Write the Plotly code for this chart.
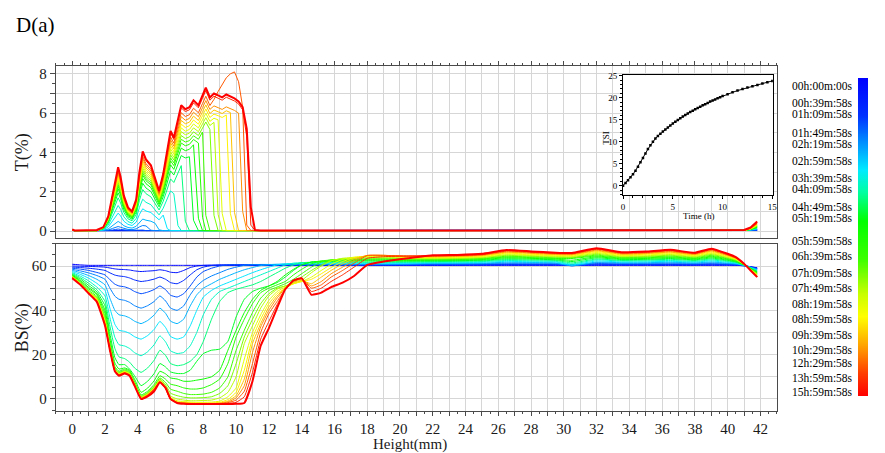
import plotly.graph_objects as go
from plotly.colors import sample_colorscale

# ------------------------------------------------------------------ data
PANEL_TITLE = "D(a)"

HEIGHT_T = [0, 0.15, 1.5, 1.9, 2.2, 2.45, 2.65, 2.8, 2.95, 3.15,
            3.4, 3.65, 3.9, 4.1, 4.3, 4.5, 4.8, 5.05, 5.3, 5.55,
            5.8, 6.0, 6.2, 6.45, 6.65, 6.9, 7.15, 7.4, 7.7, 7.95,
            8.15, 8.4, 8.65, 8.9, 9.15, 9.4, 9.65, 9.9, 10.15, 10.4,
            10.65, 10.9, 11.15, 11.5, 25, 40, 41.0, 41.4, 41.8]

T_CURVES = [
    [0.03,0.02,0.02,0.02,0.02,0.02,0.02,0.02,0.02,0.02,
     0.02,0.02,0.02,0.02,0.02,0.02,0.02,0.02,0.02,0.02,
     0.02,0.02,0.02,0.02,0.02,0.02,0.02,0.02,0.02,0.02,
     0.02,0.02,0.02,0.02,0.02,0.02,0.02,0.02,0.02,0.02,
     0.02,0.02,0.02,0.02,0.02,0.02,0.02,0.03,0.04],
    [0.03,0.02,0.02,0.02,0.02,0.02,0.02,0.02,0.02,0.02,
     0.02,0.02,0.02,0.02,0.02,0.02,0.02,0.02,0.02,0.02,
     0.02,0.02,0.02,0.02,0.02,0.02,0.02,0.02,0.02,0.02,
     0.02,0.02,0.02,0.02,0.02,0.02,0.02,0.02,0.02,0.02,
     0.02,0.02,0.02,0.02,0.02,0.02,0.02,0.03,0.04],
    [0.03,0.02,0.02,0.02,0.02,0.02,0.03,0.03,0.03,0.02,
     0.02,0.02,0.02,0.02,0.02,0.02,0.02,0.02,0.02,0.02,
     0.02,0.02,0.02,0.02,0.02,0.02,0.02,0.02,0.02,0.02,
     0.02,0.02,0.02,0.02,0.02,0.02,0.02,0.02,0.02,0.02,
     0.02,0.02,0.02,0.02,0.02,0.02,0.02,0.03,0.05],
    [0.03,0.02,0.02,0.02,0.03,0.05,0.08,0.1,0.08,0.05,
     0.04,0.03,0.05,0.06,0.05,0.02,0.02,0.02,0.02,0.02,
     0.02,0.02,0.02,0.02,0.02,0.02,0.02,0.02,0.02,0.02,
     0.02,0.02,0.02,0.02,0.02,0.02,0.02,0.02,0.02,0.02,
     0.02,0.02,0.02,0.02,0.02,0.02,0.02,0.03,0.05],
    [0.03,0.02,0.02,0.02,0.05,0.13,0.2,0.23,0.19,0.13,
     0.08,0.07,0.11,0.21,0.28,0.26,0.04,0.02,0.02,0.02,
     0.02,0.02,0.02,0.02,0.02,0.02,0.02,0.02,0.02,0.02,
     0.02,0.02,0.02,0.02,0.02,0.02,0.02,0.02,0.02,0.02,
     0.02,0.02,0.02,0.02,0.02,0.02,0.02,0.04,0.07],
    [0.03,0.02,0.02,0.03,0.11,0.27,0.42,0.49,0.41,0.27,
     0.18,0.15,0.24,0.45,0.61,0.55,0.5,0.4,0.06,0.02,
     0.02,0.02,0.02,0.02,0.02,0.02,0.02,0.02,0.02,0.02,
     0.02,0.02,0.02,0.02,0.02,0.02,0.02,0.02,0.02,0.02,
     0.02,0.02,0.02,0.02,0.02,0.02,0.03,0.05,0.1],
    [0.03,0.02,0.02,0.06,0.21,0.5,0.78,0.91,0.77,0.5,
     0.34,0.28,0.45,0.84,1.13,1.02,0.94,0.74,0.57,0.81,
     0.12,0.02,0.02,0.02,0.02,0.02,0.02,0.02,0.02,0.02,
     0.02,0.02,0.02,0.02,0.02,0.02,0.02,0.02,0.02,0.02,
     0.02,0.02,0.02,0.02,0.02,0.02,0.03,0.06,0.12],
    [0.03,0.02,0.02,0.08,0.3,0.72,1.12,1.3,1.1,0.72,
     0.48,0.4,0.64,1.2,1.62,1.46,1.34,1.06,0.82,1.16,
     1.68,2.04,1.9,0.28,0.02,0.02,0.02,0.02,0.02,0.02,
     0.02,0.02,0.02,0.02,0.02,0.02,0.02,0.02,0.02,0.02,
     0.02,0.02,0.02,0.02,0.02,0.02,0.03,0.07,0.15],
    [0.03,0.02,0.02,0.1,0.39,0.94,1.46,1.69,1.43,0.94,
     0.62,0.52,0.83,1.56,2.11,1.9,1.74,1.38,1.07,1.51,
     2.18,2.65,2.47,2.96,3.33,0.5,0.02,0.02,0.02,0.02,
     0.02,0.02,0.02,0.02,0.02,0.02,0.02,0.02,0.02,0.02,
     0.02,0.02,0.02,0.02,0.02,0.02,0.03,0.07,0.16],
    [0.03,0.02,0.02,0.12,0.45,1.08,1.68,1.95,1.65,1.08,
     0.72,0.6,0.96,1.8,2.43,2.19,2.01,1.59,1.23,1.74,
     2.52,3.06,2.85,3.42,3.84,3.72,3.78,0.55,0.02,0.02,
     0.02,0.02,0.02,0.02,0.02,0.02,0.02,0.02,0.02,0.02,
     0.02,0.02,0.02,0.02,0.02,0.02,0.03,0.08,0.18],
    [0.03,0.02,0.02,0.13,0.5,1.19,1.85,2.15,1.82,1.19,
     0.79,0.66,1.06,1.98,2.67,2.41,2.21,1.75,1.35,1.91,
     2.77,3.37,3.14,3.76,4.22,4.09,4.16,4.39,0.65,0.02,
     0.02,0.02,0.02,0.02,0.02,0.02,0.02,0.02,0.02,0.02,
     0.02,0.02,0.02,0.02,0.02,0.02,0.03,0.08,0.2],
    [0.03,0.02,0.02,0.14,0.53,1.26,1.96,2.28,1.93,1.26,
     0.84,0.7,1.12,2.1,2.84,2.56,2.35,1.86,1.44,2.03,
     2.94,3.57,3.33,3.99,4.48,4.34,4.41,4.66,4.48,0.7,
     0.02,0.02,0.02,0.02,0.02,0.02,0.02,0.02,0.02,0.02,
     0.02,0.02,0.02,0.02,0.02,0.02,0.03,0.09,0.22],
    [0.03,0.02,0.02,0.15,0.55,1.31,2.04,2.37,2.01,1.31,
     0.88,0.73,1.17,2.19,2.96,2.66,2.45,1.93,1.5,2.12,
     3.07,3.72,3.47,4.16,4.67,4.53,4.6,4.85,4.67,5.04,
     0.8,0.02,0.02,0.02,0.02,0.02,0.02,0.02,0.02,0.02,
     0.02,0.02,0.02,0.02,0.02,0.02,0.03,0.1,0.24],
    [0.03,0.02,0.02,0.15,0.57,1.37,2.13,2.47,2.09,1.37,
     0.91,0.76,1.22,2.28,3.08,2.77,2.55,2.01,1.56,2.2,
     3.19,3.88,3.61,4.33,4.86,4.71,4.79,5.05,4.86,5.24,
     5.55,5.17,0.8,0.02,0.02,0.02,0.02,0.02,0.02,0.02,
     0.02,0.02,0.02,0.02,0.02,0.02,0.03,0.1,0.26],
    [0.03,0.02,0.02,0.16,0.59,1.42,2.21,2.57,2.17,1.42,
     0.95,0.79,1.26,2.37,3.2,2.88,2.65,2.09,1.62,2.29,
     3.32,4.03,3.75,4.5,5.06,4.9,4.98,5.25,5.06,5.45,
     5.77,5.37,5.53,0.85,0.02,0.02,0.02,0.02,0.02,0.02,
     0.02,0.02,0.02,0.02,0.02,0.02,0.03,0.11,0.28],
    [0.03,0.02,0.02,0.16,0.62,1.48,2.3,2.67,2.26,1.48,
     0.98,0.82,1.31,2.46,3.32,2.99,2.75,2.17,1.68,2.38,
     3.44,4.18,3.9,4.67,5.25,5.08,5.17,5.45,5.25,5.66,
     5.99,5.58,5.74,5.66,0.9,0.02,0.02,0.02,0.02,0.02,
     0.02,0.02,0.02,0.02,0.02,0.02,0.03,0.11,0.3],
    [0.03,0.02,0.02,0.17,0.64,1.53,2.38,2.76,2.34,1.53,
     1.02,0.85,1.36,2.55,3.44,3.1,2.85,2.25,1.74,2.47,
     3.57,4.34,4.04,4.85,5.44,5.27,5.36,5.65,5.44,5.87,
     6.21,5.78,5.95,5.87,5.78,5.91,0.9,0.02,0.02,0.02,
     0.02,0.02,0.02,0.02,0.02,0.02,0.03,0.12,0.32],
    [0.03,0.02,0.02,0.18,0.66,1.58,2.46,2.86,2.42,1.58,
     1.06,0.88,1.41,2.64,3.56,3.21,2.95,2.33,1.8,2.55,
     3.7,4.49,4.18,5.02,5.63,5.46,5.54,5.85,5.63,6.07,
     6.42,5.98,6.16,6.07,5.98,6.12,6.03,0.95,0.02,0.02,
     0.02,0.02,0.02,0.02,0.02,0.02,0.03,0.13,0.35],
    [0.03,0.02,0.02,0.18,0.68,1.64,2.55,2.96,2.5,1.64,
     1.09,0.91,1.46,2.73,3.69,3.32,3.05,2.41,1.87,2.64,
     3.82,4.64,4.32,5.19,5.82,5.64,5.73,6.05,5.82,6.28,
     6.64,6.19,6.37,6.28,6.19,6.32,6.23,6.14,6.0,1.0,
     0.02,0.02,0.02,0.02,0.02,0.02,0.03,0.13,0.37],
    [0.03,0.02,0.02,0.19,0.71,1.69,2.63,3.06,2.59,1.69,
     1.13,0.94,1.5,2.82,3.81,3.43,3.15,2.49,1.93,2.73,
     3.95,4.79,4.47,5.36,6.02,5.83,5.92,6.25,6.02,6.49,
     6.86,6.39,6.7,7.1,7.45,7.8,8.0,8.1,7.6,6.3,
     0.3,0.03,0.02,0.02,0.02,0.02,0.03,0.14,0.4],
    [0.04,0.02,0.03,0.2,0.74,1.76,2.74,3.19,2.7,1.76,
     1.18,0.98,1.57,2.94,3.97,3.58,3.28,2.6,2.01,2.84,
     4.12,5.0,4.66,5.59,6.27,6.08,6.17,6.52,6.27,6.76,
     7.15,6.66,6.86,6.76,6.66,6.81,6.71,6.62,6.47,6.17,
     4.8,0.3,0.03,0.02,0.02,0.02,0.03,0.15,0.42],
    [0.08,0.03,0.05,0.2,0.75,1.8,2.8,3.25,2.75,1.8,
     1.2,1.0,1.6,3.0,4.05,3.65,3.35,2.65,2.05,2.9,
     4.2,5.1,4.75,5.7,6.4,6.2,6.3,6.65,6.4,6.9,
     7.3,6.8,7.0,6.9,6.8,6.95,6.85,6.75,6.6,6.3,
     5.2,1.2,0.05,0.03,0.02,0.03,0.05,0.18,0.48],
]

HEIGHT_BS = [0, 0.5, 1, 1.5, 2, 2.3, 2.6, 2.85, 3.2, 3.5, 3.8, 4.2, 4.6, 5.0, 5.35, 5.7, 6.0, 6.4,
             6.8, 7.2, 7.6, 8.0, 8.5, 9.0, 9.5, 10.0, 10.5, 11.0, 11.5, 12.0, 12.5, 13.0, 13.5, 14.0,
             14.6, 15.2, 15.8, 16.5, 17.2, 18.0,
             19.0, 20.5,
             22.0, 23.5, 25.0, 26.5, 28.0, 29.5, 30.5, 32.0, 33.5, 35.0, 36.5, 38.0, 39.0, 40.0,
             40.5, 41.0, 41.4, 41.8]

BS_CURVES = [
    [60.8, 60.5, 60.3, 60.3, 60.3, 60.3, 60.3, 60.3, 60.3, 60.3, 60.3, 60.3, 60.3, 60.3, 60.3, 60.3, 60.3, 60.3,
     60.3, 60.3, 60.3, 60.3, 60.3, 60.3, 60.3, 60.3, 60.3, 60.3, 60.3, 60.3, 60.3, 60.3, 60.3, 60.3, 60.3, 60.3, 60.3, 60.3, 60.3, 60.3,
     60.3, 60.3,
     60.3, 60.3, 60.3, 60.3, 60.3, 60.3, 60.3, 60.3, 60.3, 60.3, 60.3, 60.3, 60.3, 60.3,
     60.3, 60.1, 59.7, 59.2],
    [60, 59.9, 59.8, 59.7, 59.5, 59.1, 58.7, 58.5, 58.4, 58.2, 57.8, 57.5, 57.7, 57.9, 58.3, 57.9, 57.2, 57.0,
     58, 59.3, 60, 60.3, 60.4, 60.4, 60.4, 60.4, 60.4, 60.4, 60.4, 60.4, 60.4, 60.4, 60.4, 60.4, 60.4, 60.4, 60.4, 60.4, 60.4, 60.4,
     60.4, 60.45,
     60.4, 60.4, 60.5, 60.5, 60.5, 60.5, 60.5, 60.5, 60.5, 60.5, 60.5, 60.5, 60.5, 60.5,
     60.4, 60.1, 59.6, 59.1],
    [59.5, 59.3, 59.0, 58.6, 58.0, 56.9, 55.9, 55.5, 55.2, 54.6, 53.7, 53.0, 53.4, 54.1, 55.0, 54.0, 52.5, 52.0,
     53.5, 56, 58.3, 59.5, 60.2, 60.5, 60.5, 60.5, 60.5, 60.5, 60.5, 60.5, 60.5, 60.5, 60.5, 60.5, 60.5, 60.5, 60.5, 60.5, 60.5, 60.5,
     60.5, 60.5,
     60.6, 60.6, 60.6, 60.7, 60.7, 60.6, 60.6, 60.8, 60.7, 60.7, 60.7, 60.6, 60.8, 60.6,
     60.5, 60.2, 59.6, 58.9],
    [59, 58.6, 58, 57.1, 56, 53.8, 51.8, 51, 50.6, 49.8, 48.5, 47.5, 48.2, 49.4, 51, 49.3, 46.8, 46,
     47.5, 51, 55, 57.5, 59, 60, 60.5, 60.6, 60.6, 60.6, 60.6, 60.6, 60.6, 60.6, 60.6, 60.6, 60.6, 60.6, 60.6, 60.6, 60.6, 60.6,
     60.6, 60.65,
     60.75, 60.8, 60.8, 61.0, 60.9, 60.9, 60.1, 61.1, 60.9, 60.9, 61.0, 60.9, 61.05, 60.8,
     60.7, 60.2, 59.5, 58.8],
    [58.5, 57.8, 56.9, 55.7, 54, 50, 46.4, 45, 44.5, 43.6, 42.1, 41, 42.1, 44, 46.5, 44.2, 41, 40,
     42, 47, 51, 53.5, 55.5, 57, 58.5, 59.5, 60.3, 60.6, 60.7, 60.7, 60.7, 60.7, 60.7, 60.7, 60.7, 60.7, 60.7, 60.7, 60.7, 60.7,
     60.7, 60.8,
     61.0, 61.0, 61.1, 61.3, 61.25, 61.2, 60.1, 61.5, 61.2, 61.2, 61.35, 61.2, 61.4, 61.1,
     60.9, 60.2, 59.4, 58.6],
    [58, 57, 55.7, 54, 51.5, 45.4, 40, 38, 37.5, 36.6, 35.1, 34, 35.4, 37.9, 41, 38.6, 35.1, 34,
     36, 42, 47, 50, 52, 54, 55.5, 57, 58.3, 59.3, 60.2, 60.6, 60.8, 60.9, 60.9, 60.9, 60.9, 60.9, 60.9, 60.9, 60.9, 60.9,
     60.9, 61.0,
     61.2, 61.2, 61.3, 61.7, 61.6, 61.4, 60.2, 61.8, 61.5, 61.5, 61.7, 61.4, 61.8, 61.3,
     61.0, 60.3, 59.4, 58.4],
    [57.5, 56.2, 54.5, 52.2, 49, 40.9, 33.7, 31, 30.5, 29.6, 28.1, 27, 28.6, 31.4, 35, 32.2, 28.2, 27,
     28, 33, 40, 46, 49, 51, 52.5, 54, 55.5, 57, 58.3, 59.5, 60.5, 61, 61.1, 61.2, 61.2, 61.2, 61.2, 61.2, 61.2, 61.2,
     61.2, 61.3,
     61.5, 61.5, 61.65, 62.1, 61.9, 61.8, 60.5, 62.3, 61.8, 61.9, 62.1, 61.8, 62.25, 61.65,
     61.3, 60.3, 59.3, 58.1],
    [57, 55.4, 53.3, 50.5, 46.5, 36.6, 27.8, 24.5, 23.9, 22.8, 20.9, 19.5, 21.3, 24.5, 28.5, 25.7, 21.7, 20.5,
     21, 24, 30, 38, 45, 48.5, 50, 51.5, 53, 54.5, 56, 57.5, 59, 60.5, 61.3, 61.5, 61.5, 61.5, 61.5, 61.5, 61.5, 61.5,
     61.5, 61.6,
     61.7, 61.8, 62.0, 62.5, 62.3, 62.1, 60.9, 62.8, 62.2, 62.3, 62.5, 62.1, 62.7, 62.0,
     61.5, 60.4, 59.2, 57.9],
    [56.6, 54.7, 52.2, 49.3, 44, 32.8, 22.8, 19, 18.2, 16.6, 14, 12, 14, 17.5, 22, 19.6, 16, 15,
     15.5, 17, 20, 26, 36, 44, 48, 49.5, 50.5, 51.5, 53, 55, 57, 59, 60.5, 61.5, 61.7, 61.8, 61.8, 61.8, 61.8, 61.8,
     61.8, 61.9,
     62.0, 62.1, 62.3, 62.9, 62.7, 62.5, 61.4, 63.2, 62.5, 62.7, 63.0, 62.5, 63.15, 62.3,
     61.7, 60.4, 59.1, 57.6],
    [56.2, 54.1, 51.2, 48.4, 42, 29.5, 18.7, 15.5, 15.5, 13.5, 10.5, 6, 8, 11.5, 16, 14.4, 12.2, 11.5,
     11.5, 13, 17, 20.5, 22, 22.5, 26, 37, 45, 48.5, 50, 51, 52.5, 55, 58, 60.5, 61.8, 62, 62.1, 62.2, 62.2, 62.3,
     62.2, 62.2,
     62.3, 62.4, 62.6, 63.3, 63.1, 62.8, 62.0, 63.7, 62.9, 63.0, 63.4, 62.8, 63.6, 62.6,
     61.9, 60.5, 58.9, 57.4],
    [55.9, 53.5, 50.3, 47.6, 40, 27.3, 16.2, 13.5, 14, 13, 9, 3, 4.9, 8.2, 12.5, 11.3, 9.5, 9,
     8, 8, 8.5, 9, 10, 13, 22, 31, 39, 45, 49, 51, 53, 56, 58.5, 60.5, 61.8, 62.2, 62.3, 62.4, 62.5, 62.6,
     62.6, 62.5,
     62.55, 62.65, 62.9, 63.75, 63.45, 63.15, 62.6, 64.15, 63.25, 63.4, 63.8, 63.15, 64.05, 62.9,
     62.2, 60.6, 58.9, 57.1],
    [55.7, 53.1, 49.7, 47.1, 38.5, 25.5, 14.6, 12.5, 13.5, 12.5, 7.9, 1.8, 3.5, 6.6, 10.5, 8.9, 6.7, 6,
     5, 4.5, 4.5, 5, 6.5, 9, 16, 28, 36, 43, 48, 50, 51.5, 53, 56, 58.5, 61, 62.3, 62.7, 62.8, 62.9, 63,
     63, 62.8,
     62.8, 62.9, 63.2, 64.1, 63.8, 63.4, 63.4, 64.5, 63.55, 63.7, 64.15, 63.4, 64.4, 63.2,
     62.3, 60.6, 58.8, 56.9],
    [55.5, 52.7, 49, 46.3, 37, 24.5, 14, 12, 13, 12, 7.4, 1.3, 2.9, 5.8, 9.5, 7.4, 4.4, 3.5,
     2.5, 2, 2, 2.2, 3, 5, 10, 22, 31, 39, 45.5, 49, 50.5, 52, 54, 56.5, 59.5, 61.8, 62.8, 63, 63.1, 63.2,
     63.3, 63.0,
     63.0, 63.1, 63.4, 64.4, 64.1, 63.7, 63.7, 64.9, 63.8, 64.0, 64.5, 63.7, 64.8, 63.4,
     62.5, 60.6, 58.7, 56.7],
    [55.3, 52.4, 48.5, 45.7, 36, 23.9, 13.6, 11.7, 12.7, 11.7, 7.1, 1, 2.6, 5.4, 9, 6.4, 2.6, 1.5,
     0.8, 0.5, 0.5, 0.6, 1, 2.5, 6, 16, 28, 36, 43, 47.5, 50, 51, 52.5, 55, 58, 60.5, 62.5, 63.3, 63.5, 63.6,
     63.6, 63.3,
     63.2, 63.4, 63.7, 64.8, 64.4, 64.0, 63.9, 65.3, 64.1, 64.3, 64.85, 64.0, 65.2, 63.7,
     62.7, 60.7, 58.6, 56.5],
    [55.2, 52.2, 48.3, 45.4, 35.5, 23.5, 13.4, 11.5, 12.5, 11.5, 6.9, 0.8, 2.4, 5.1, 8.7, 5.7, 1.3, 0,
     -0.5, -0.8, -0.8, -0.7, -0.5, 0.5, 3, 10, 25, 33, 41, 46.5, 49.5, 51, 52, 53.5, 57, 60, 62.3, 63.5, 63.8, 64,
     64, 63.5,
     63.45, 63.6, 63.9, 65.1, 64.7, 64.3, 64.2, 65.7, 64.4, 64.6, 65.2, 64.3, 65.55, 63.9,
     62.9, 60.7, 58.5, 56.3],
    [55.1, 52.1, 48.2, 45.1, 35, 23.2, 13.1, 11.3, 12.3, 11.3, 6.7, 0.6, 2.2, 4.9, 8.4, 5.2, 0.6, -0.8,
     -1.2, -1.4, -1.5, -1.5, -1.4, -1, 1, 5, 18, 30, 38, 44.5, 48.5, 50.5, 52, 53, 55, 58, 60.8, 63, 64, 64.3,
     64.4, 63.8,
     63.7, 63.8, 64.2, 65.5, 65.0, 64.6, 64.5, 66.1, 64.7, 64.95, 65.55, 64.6, 65.9, 64.2,
     63.1, 60.8, 58.4, 56.1],
    [55, 51.9, 48.1, 44.8, 34.5, 22.8, 12.9, 11.1, 12.1, 11.1, 6.5, 0.5, 2, 4.7, 8.2, 4.9, 0.2, -1.2,
     -1.5, -1.7, -1.8, -1.8, -1.8, -1.5, -0.3, 3, 13, 27.5, 36, 43, 47.5, 50, 52, 53, 54, 56.5, 59.3, 62, 63.8, 64.5,
     64.7, 64,
     63.9, 64.1, 64.5, 65.8, 65.3, 64.9, 64.8, 66.5, 65.0, 65.3, 65.9, 64.9, 66.3, 64.5,
     63.3, 60.8, 58.3, 55.8],
    [54.9, 51.8, 48.0, 44.5, 34, 22.5, 12.8, 11, 12, 11, 6.4, 0.4, 1.9, 4.6, 8, 4.7, 0, -1.5,
     -1.7, -1.9, -2, -2, -2, -1.8, -1, 1.5, 9, 25, 34, 41.5, 46.5, 50, 52.5, 53.5, 52, 55, 58, 61, 63.3, 64.7,
     64.8, 64.2,
     64.1, 64.3, 64.7, 66.2, 65.7, 65.15, 65.1, 66.85, 65.3, 65.6, 66.25, 65.15, 66.7, 64.7,
     63.4, 60.9, 58.3, 55.6],
    [54.8, 51.7, 47.9, 44.3, 33.8, 22.4, 12.7, 10.9, 11.9, 10.9, 6.3, 0.3, 1.8, 4.5, 7.9, 4.6, -0.1, -1.6,
     -1.8, -2, -2.1, -2.1, -2.1, -2, -1.4, 0.5, 6, 21, 32.5, 40, 45.5, 50, 53, 54, 51, 53, 56.5, 59.5, 62.5, 64.8,
     64.8, 64.4,
     64.3, 64.5, 64.9, 66.4, 65.9, 65.4, 65.3, 67.15, 65.55, 65.8, 66.5, 65.4, 67.0, 64.9,
     63.6, 60.9, 58.2, 55.5],
    [54.7, 51.6, 47.8, 44.1, 33.5, 22.2, 12.6, 10.8, 11.8, 10.8, 6.2, 0.2, 1.7, 4.4, 7.8, 4.5, -0.2, -1.7,
     -1.9, -2.1, -2.2, -2.2, -2.2, -2.1, -1.7, -0.5, 3.5, 16, 30, 38.5, 44, 49.5, 53.3, 54.3, 50, 51.5, 55, 58, 61.3, 64.7,
     64.8, 64.5,
     64.5, 64.7, 65.1, 66.7, 66.2, 65.6, 65.5, 67.5, 65.8, 66.1, 66.8, 65.6, 67.3, 65.1,
     63.7, 60.9, 58.1, 55.3],
    [54.6, 51.5, 47.7, 43.9, 33.2, 22.1, 12.5, 10.6, 11.6, 10.6, 6.1, 0.1, 1.5, 4.2, 7.6, 4.6, -0.1, -1.8,
     -2, -2.2, -2.3, -2.3, -2.3, -2.2, -2, -1.5, 1, 12, 27, 35, 42.5, 49.5, 53.5, 54.5, 48.5, 50, 53, 56, 59.5, 63.5,
     64.2, 64.5,
     64.7, 64.9, 65.3, 67.0, 66.4, 65.8, 65.7, 67.8, 66.0, 66.3, 67.1, 65.8, 67.6, 65.3,
     63.9, 61.0, 58.1, 55.1],
    [54.5, 51.5, 47.6, 43.8, 33, 22, 12.5, 10.5, 11.5, 10.5, 6, 0, 1.2, 3.5, 7.5, 5, 0, -1.8,
     -2.2, -2.3, -2.3, -2.3, -2.3, -2.3, -2.3, -2.2, -1.8, 8, 24, 32, 41, 49.5, 53.5, 54.5, 47, 48, 50.5, 52.5, 55.5, 60.5,
     62, 63.5,
     64.8, 65.0, 65.5, 67.2, 66.6, 66.0, 65.9, 68.0, 66.2, 66.5, 67.3, 66.0, 67.8, 65.5,
     64.0, 61.0, 58.0, 55.0],
]

TSI_TIME = [0, 0.25, 0.5, 0.75, 1.0, 1.25, 1.5, 1.75, 2.0, 2.25, 2.5, 2.75, 3.0, 3.25, 3.5, 3.75,
            4.0, 4.25, 4.5, 4.75, 5.0, 5.25, 5.5, 5.75, 6.0, 6.25, 6.5, 6.75, 7.0, 7.25, 7.5, 7.75,
            8.0, 8.25, 8.5, 8.75, 9.0, 9.25, 9.5, 9.75, 10.0, 10.5, 11.0, 11.5, 12.0, 12.5, 13.0,
            13.5, 14.0, 14.5, 15.0]
TSI_VALUE = [0, 0.6, 1.2, 1.9, 2.6, 3.4, 4.3, 5.3, 6.3, 7.3, 8.3, 9.2, 10.0, 10.7, 11.3, 11.8,
             12.3, 12.75, 13.2, 13.65, 14.1, 14.5, 14.9, 15.3, 15.7, 16.05, 16.4, 16.75, 17.05, 17.35,
             17.65, 17.95, 18.25, 18.5, 18.8, 19.1, 19.35, 19.6, 19.85, 20.1, 20.35, 20.8, 21.2, 21.6,
             21.95, 22.3, 22.6, 22.9, 23.2, 23.5, 23.8]

TIME_LABELS = ["00h:00m:00s", "00h:39m:58s", "01h:09m:58s", "01h:49m:58s", "02h:19m:58s",
               "02h:59m:58s", "03h:39m:58s", "04h:09m:58s", "04h:49m:58s", "05h:19m:58s",
               "05h:59m:58s", "06h:39m:58s", "07h:09m:58s", "07h:49m:58s", "08h:19m:58s",
               "08h:59m:58s", "09h:39m:58s", "10h:29m:58s", "12h:29m:58s", "13h:59m:58s",
               "15h:59m:58s"]

X_TICK_VALUES = [0, 1, 2, 3, 4, 5, 6, 7, 8, 9, 10, 11, 12, 13, 14, 15, 16, 17, 18, 19, 20, 21,
                 22, 23, 24, 25, 26, 27, 28, 29, 30, 31, 32, 33, 34, 35, 36, 37, 38, 39, 40, 41, 42]
X_TICK_LABELS = ["0", "", "2", "", "4", "", "6", "", "8", "", "10", "", "12", "", "14", "", "16", "",
                 "18", "", "20", "", "22", "", "24", "", "26", "", "28", "", "30", "", "32", "",
                 "34", "", "36", "", "38", "", "40", "", "42"]
T_TICK_VALUES = [0, 1, 2, 3, 4, 5, 6, 7, 8]
T_TICK_LABELS = ["0", "", "2", "", "4", "", "6", "", "8"]
BS_TICK_VALUES = [0, 10, 20, 30, 40, 50, 60]
BS_TICK_LABELS = ["0", "", "20", "", "40", "", "60"]
TSI_X_TICKS = [0, 5, 10, 15]
TSI_Y_TICKS = [0, 5, 10, 15, 20, 25]

# ------------------------------------------------------------------ style / layout
W, H = 885, 453
FONT = "Liberation Serif"
AX = "#4a4a4a"
GRID = "#d6d6d6"
COLORSCALE = [
    [0.0, "rgb(0,0,255)"], [0.12, "rgb(0,50,255)"], [0.2, "rgb(0,140,255)"],
    [0.29, "rgb(0,235,255)"], [0.36, "rgb(0,255,160)"], [0.45, "rgb(0,255,0)"],
    [0.57, "rgb(60,255,0)"], [0.68, "rgb(200,255,0)"], [0.75, "rgb(255,255,0)"],
    [0.84, "rgb(255,165,0)"], [0.93, "rgb(255,60,0)"], [1.0, "rgb(255,0,0)"],
]
LABEL_Y_PX = [83, 100, 111, 130.5, 142, 158.5, 176, 187.5, 205.5, 216.5, 239.5, 255,
              271.5, 287.5, 303.5, 318.5, 335, 349.5, 363.5, 378, 392.5]


def fx(p):
    return p / W


def fy(p):
    return 1 - p / H


fig = go.Figure()

nT = len(T_CURVES)
for k, row in enumerate(T_CURVES):
    assert len(row) == len(HEIGHT_T), ("T", k, len(row))
    c = sample_colorscale(COLORSCALE, [k / (nT - 1)])[0]
    fig.add_trace(go.Scatter(x=HEIGHT_T, y=row, mode="lines", xaxis="x", yaxis="y",
                             line=dict(color=c, width=2.0 if k == nT - 1 else 1.0),
                             hoverinfo="skip", showlegend=False))

nB = len(BS_CURVES)
for k, row in enumerate(BS_CURVES):
    assert len(row) == len(HEIGHT_BS), ("BS", k, len(row))
    c = sample_colorscale(COLORSCALE, [k / (nB - 1)])[0]
    fig.add_trace(go.Scatter(x=HEIGHT_BS, y=row, mode="lines", xaxis="x2", yaxis="y2",
                             line=dict(color=c, width=2.0 if k == nB - 1 else 1.0,
                                       shape="spline", smoothing=0.4),
                             hoverinfo="skip", showlegend=False))

# TSI inset
fig.add_trace(go.Scatter(x=TSI_TIME, y=TSI_VALUE, mode="lines+markers", xaxis="x3", yaxis="y3",
                         line=dict(color="black", width=1),
                         marker=dict(symbol="square", size=2.5, color="black"),
                         hoverinfo="skip", showlegend=False))

# colour bar holder
fig.add_trace(go.Scatter(x=[-5], y=[-5], mode="markers", xaxis="x", yaxis="y",
                         marker=dict(size=1, color=[0], cmin=0, cmax=1, colorscale=COLORSCALE,
                                     reversescale=True, showscale=True,
                                     colorbar=dict(thickness=10, thicknessmode="pixels",
                                                   len=322 / H, lenmode="fraction",
                                                   x=fx(863), xanchor="left",
                                                   y=fy(236), yanchor="middle",
                                                   outlinewidth=0, showticklabels=False,
                                                   ticks="", xpad=0, ypad=0)),
                         hoverinfo="skip", showlegend=False))

tickfont = dict(family=FONT, size=15, color="#1a1a1a")
common_x = dict(range=[-1, 43], tickmode="array", tickvals=X_TICK_VALUES, ticktext=X_TICK_LABELS,
                ticks="outside", ticklen=4, tickwidth=1, tickcolor=AX,
                showline=True, linecolor=AX, linewidth=1, mirror=True,
                showgrid=True, gridcolor=GRID, gridwidth=1, zeroline=False,
                minor=dict(dtick=0.5, tick0=0, ticks="outside", ticklen=2, tickcolor=AX, showgrid=False),
                tickfont=tickfont, domain=[fx(54.3), fx(781)])
common_y = dict(ticks="outside", ticklen=5, tickwidth=1, tickcolor=AX,
                showline=True, linecolor=AX, linewidth=1, mirror=True,
                showgrid=True, gridcolor=GRID, gridwidth=1, zeroline=False,
                tickfont=tickfont, tickmode="array")

inset_font = dict(family=FONT, size=9, color="black")

fig.update_layout(
    width=W, height=H, margin=dict(l=0, r=0, t=0, b=0),
    paper_bgcolor="white", plot_bgcolor="white", showlegend=False,
    font=dict(family=FONT),
    xaxis=dict(common_x, anchor="y", side="top", showticklabels=False),
    xaxis2=dict(common_x, anchor="y2", side="bottom"),
    yaxis=dict(common_y, anchor="x", domain=[fy(236.7), fy(62.3)], range=[-0.36, 8.42],
               tickvals=T_TICK_VALUES, ticktext=T_TICK_LABELS,
               minor=dict(dtick=0.5, tick0=0, ticks="outside", ticklen=3, tickcolor=AX, showgrid=False)),
    yaxis2=dict(common_y, anchor="x2", domain=[fy(411.7), fy(242.3)], range=[-5.5, 70.1],
                tickvals=BS_TICK_VALUES, ticktext=BS_TICK_LABELS,
                minor=dict(dtick=5, tick0=0, ticks="outside", ticklen=3, tickcolor=AX, showgrid=False)),
    xaxis3=dict(anchor="y3", domain=[fx(626), fx(777)], range=[0, 15.05],
                tickmode="array", tickvals=TSI_X_TICKS, ticks="outside", ticklen=3, tickcolor="black",
                minor=dict(dtick=1, tick0=0, ticks="outside", ticklen=2, tickcolor="black"),
                showline=True, linecolor="black", linewidth=1, mirror=True,
                showgrid=False, zeroline=False, tickfont=inset_font),
    yaxis3=dict(anchor="x3", domain=[fy(193), fy(72)], range=[-2.1, 25.1],
                tickmode="array", tickvals=TSI_Y_TICKS, ticks="outside", ticklen=3, tickcolor="black",
                minor=dict(dtick=1, tick0=0, ticks="outside", ticklen=2, tickcolor="black"),
                showline=True, linecolor="black", linewidth=1, mirror=True,
                showgrid=False, zeroline=False, tickfont=inset_font),
)

ann = [
    dict(text=PANEL_TITLE, x=fx(12), y=fy(21), xanchor="left", yanchor="middle",
         font=dict(family=FONT, size=21, color="black")),
    dict(text="T(%)", x=fx(21), y=fy(150), textangle=-90, xanchor="center", yanchor="middle",
         font=dict(family=FONT, size=18, color="#1a1a1a")),
    dict(text="BS(%)", x=fx(21), y=fy(327), textangle=-90, xanchor="center", yanchor="middle",
         font=dict(family=FONT, size=18, color="#1a1a1a")),
    dict(text="Height(mm)", x=fx(411), y=fy(445), xanchor="center", yanchor="middle",
         font=dict(family=FONT, size=15, color="#1a1a1a")),
    dict(text="Time (h)", x=fx(702), y=fy(214), xanchor="center", yanchor="middle",
         font=dict(family=FONT, size=9, color="black")),
    dict(text="TSI", x=fx(608), y=fy(135), textangle=-90, xanchor="center", yanchor="middle",
         font=dict(family=FONT, size=9, color="black")),
]
for lab, ypx in zip(TIME_LABELS, LABEL_Y_PX):
    ann.append(dict(text=lab, x=fx(859), y=fy(ypx), xanchor="right", yanchor="middle",
                    borderpad=0, font=dict(family=FONT, size=11.5, color="black")))
for a in ann:
    a.update(xref="paper", yref="paper", showarrow=False)
fig.update_layout(annotations=ann)

fig.write_html("out.html", config={"displayModeBar": False})
